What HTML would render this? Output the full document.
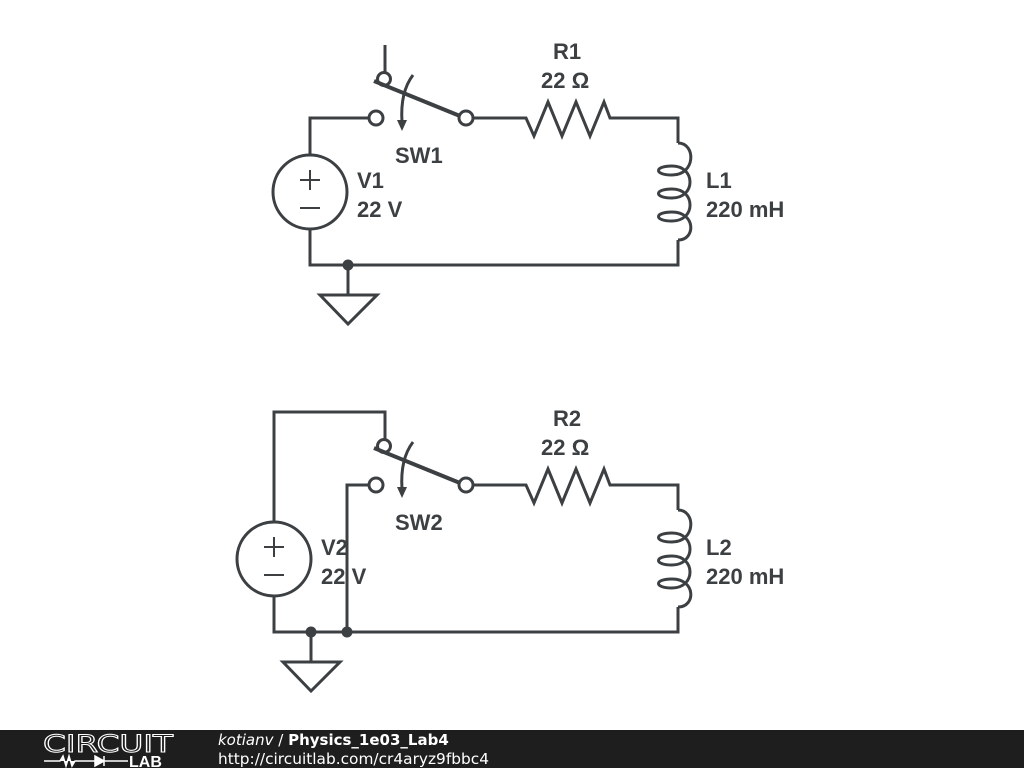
<!DOCTYPE html>
<html><head><style>
html,body{margin:0;padding:0;background:#fff;width:1024px;height:768px;overflow:hidden}
svg{display:block}
.l{font-family:"Liberation Sans",Arial,sans-serif;font-weight:bold;fill:#3c4043;font-size:22px}
.f{font-family:"DejaVu Sans",sans-serif;fill:#fff;font-size:15px}
</style></head><body>
<svg width="1024" height="768" viewBox="0 0 1024 768" xmlns="http://www.w3.org/2000/svg">
<defs>
<g id="coil"><path d="M678,143 C696,143 696,175 672,175 C654,175 654,166 672,166 C696,166 696,198 672,198 C654,198 654,189 672,189 C696,189 696,221 672,221 C654,221 654,212 672,212 C696,212 696,240 678,240" fill="none"/></g>
</defs>
<g stroke="#3c4043" stroke-width="3" fill="none" stroke-linejoin="miter">
<path d="M310,155 V118 H369"/>
<path d="M310,229 V265 H678 V240"/>
<path d="M678,143 V118 H610 L604,102 L590,136 L576,102 L562,136 L548,102 L534,136 L526,118 H473"/>
<path d="M385,45 V72"/>
<circle cx="384" cy="79" r="6.5" fill="#fff"/>
<circle cx="376" cy="118" r="7" fill="#fff"/>
<circle cx="466" cy="118" r="7" fill="#fff"/>
<path d="M374,81 L460,116" stroke-width="4"/>
<path d="M413,75 Q400,92 402,122"/>
<circle cx="310" cy="192" r="37"/>
<path d="M300,180 H320 M310,170 V190 M300,208 H320" stroke-width="2"/>
<use href="#coil"/>
<path d="M348,265 V295 M320,295 H377 L348,324 Z"/>
<path d="M274,522 V412 H385 V439"/>
<path d="M274,596 V632 H678 V607"/>
<path d="M347,632 V485 H369"/>
<path d="M678,510 V485 H610 L604,469 L590,503 L576,469 L562,503 L548,469 L534,503 L526,485 H473"/>
<circle cx="384" cy="446" r="6.5" fill="#fff"/>
<circle cx="376" cy="485" r="7" fill="#fff"/>
<circle cx="466" cy="485" r="7" fill="#fff"/>
<path d="M374,448 L460,483" stroke-width="4"/>
<path d="M413,442 Q400,459 402,489"/>
<circle cx="274" cy="559" r="37"/>
<path d="M264,547 H284 M274,537 V557 M264,575 H284" stroke-width="2"/>
<use href="#coil" transform="translate(0,367)"/>
<path d="M311,632 V662 M283,662 H340 L311,691 Z"/>
</g>
<g fill="#3c4043">
<polygon points="397,120 407,120 402,131"/>
<polygon points="397,487 407,487 402,498"/>
<circle cx="348" cy="265" r="5.5"/>
<circle cx="311" cy="632" r="5.5"/>
<circle cx="347" cy="632" r="5.5"/>
</g>
<g>
<text class="l" x="553" y="59">R1</text><text class="l" x="541" y="88">22 Ω</text>
<text class="l" x="395" y="163">SW1</text>
<text class="l" x="357" y="188">V1</text><text class="l" x="357" y="217">22 V</text>
<text class="l" x="706" y="188">L1</text><text class="l" x="706" y="217">220 mH</text>
<text class="l" x="553" y="426">R2</text><text class="l" x="541" y="455">22 Ω</text>
<text class="l" x="395" y="530">SW2</text>
<text class="l" x="321" y="555">V2</text><text class="l" x="321" y="584">22 V</text>
<text class="l" x="706" y="555">L2</text><text class="l" x="706" y="584">220 mH</text>
</g>
<rect x="0" y="730" width="1024" height="38" fill="#1e1e1e"/>
<text x="43" y="752" style="font-family:'DejaVu Sans',sans-serif;font-size:24px;fill:none;stroke:#fff;stroke-width:1" textLength="130" lengthAdjust="spacingAndGlyphs">CIRCUIT</text>
<path d="M44,761 H60 L63,756 L66,766 L69,756 L72,766 L75,761 H95 M95,756 V766 L104,761 Z M104,756 V766 M104,761 H128" stroke="#fff" stroke-width="1.5" fill="#fff"/>
<text x="129" y="767" style="font-family:'Liberation Sans',sans-serif;font-weight:bold;font-size:16px;fill:#fff">LAB</text>
<text class="f" x="218" y="745"><tspan font-style="italic">kotianv</tspan> / <tspan font-weight="bold">Physics_1e03_Lab4</tspan></text>
<text class="f" x="218" y="764" textLength="271" lengthAdjust="spacingAndGlyphs">http://circuitlab.com/cr4aryz9fbbc4</text>
</svg>
</body></html>
